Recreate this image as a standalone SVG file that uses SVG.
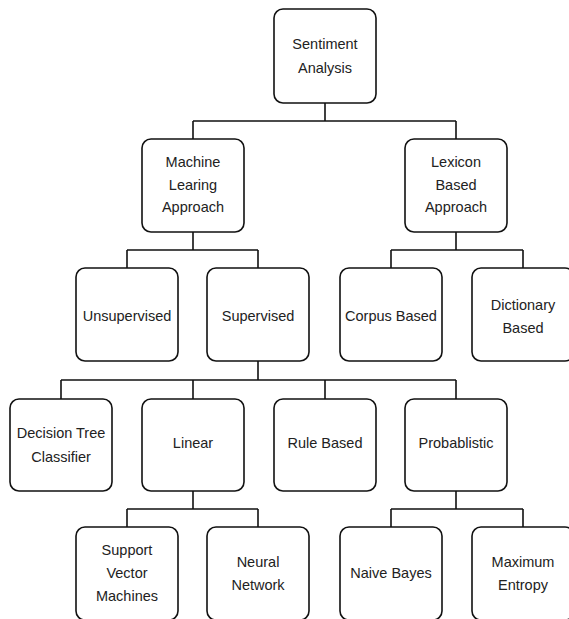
<svg xmlns="http://www.w3.org/2000/svg" width="569" height="619" viewBox="0 0 569 619">
<style>
rect.n{fill:#fff;stroke:#111;stroke-width:1.6}
text{font-family:"Liberation Sans",Arial,sans-serif;font-size:14.5px;fill:#222;text-anchor:middle}
.c path{fill:none;stroke:#111;stroke-width:1.6}
</style>
<rect width="569" height="619" fill="#fff"/>
<g class="c" id="connectors">
<path d="M325,103V121M193,121H456M193,121V139M456,121V139"/>
<path d="M193,232V250M127,250H258M127,250V268M258,250V268"/>
<path d="M456,232V250M391,250H523M391,250V268M523,250V268"/>
<path d="M258,361V380M61,380H456M61,380V399M193,380V399M325,380V399M456,380V399"/>
<path d="M193,491V509M127,509H258M127,509V527M258,509V527"/>
<path d="M456,491V509M391,509H523M391,509V527M523,509V527"/>
</g>
<g id="sentiment"><rect class="n" x="274" y="9" width="102" height="94" rx="9"/><text x="325" y="49">Sentiment</text><text x="325" y="73">Analysis</text></g>
<g id="ml"><rect class="n" x="142" y="139" width="102" height="93" rx="9"/><text x="193" y="167">Machine</text><text x="193" y="190">Learing</text><text x="193" y="212">Approach</text></g>
<g id="lexicon"><rect class="n" x="405" y="139" width="102" height="93" rx="9"/><text x="456" y="167">Lexicon</text><text x="456" y="190">Based</text><text x="456" y="212">Approach</text></g>
<g id="unsupervised"><rect class="n" x="76" y="268" width="102" height="93" rx="9"/><text x="127" y="321">Unsupervised</text></g>
<g id="supervised"><rect class="n" x="207" y="268" width="102" height="93" rx="9"/><text x="258" y="321">Supervised</text></g>
<g id="corpus"><rect class="n" x="340" y="268" width="102" height="93" rx="9"/><text x="391" y="321">Corpus Based</text></g>
<g id="dictionary"><rect class="n" x="472" y="268" width="102" height="93" rx="9"/><text x="523" y="310">Dictionary</text><text x="523" y="333">Based</text></g>
<g id="decision"><rect class="n" x="10" y="399" width="102" height="92" rx="9"/><text x="61" y="438">Decision Tree</text><text x="61" y="462">Classifier</text></g>
<g id="linear"><rect class="n" x="142" y="399" width="102" height="92" rx="9"/><text x="193" y="448">Linear</text></g>
<g id="rule"><rect class="n" x="274" y="399" width="102" height="92" rx="9"/><text x="325" y="448">Rule Based</text></g>
<g id="prob"><rect class="n" x="405" y="399" width="102" height="92" rx="9"/><text x="456" y="448">Probablistic</text></g>
<g id="svm"><rect class="n" x="76" y="527" width="102" height="93" rx="9"/><text x="127" y="555">Support</text><text x="127" y="578">Vector</text><text x="127" y="601">Machines</text></g>
<g id="neural"><rect class="n" x="207" y="527" width="102" height="93" rx="9"/><text x="258" y="567">Neural</text><text x="258" y="590">Network</text></g>
<g id="naive"><rect class="n" x="340" y="527" width="102" height="93" rx="9"/><text x="391" y="578">Naive Bayes</text></g>
<g id="maxent"><rect class="n" x="472" y="527" width="102" height="93" rx="9"/><text x="523" y="567">Maximum</text><text x="523" y="590">Entropy</text></g>
</svg>
